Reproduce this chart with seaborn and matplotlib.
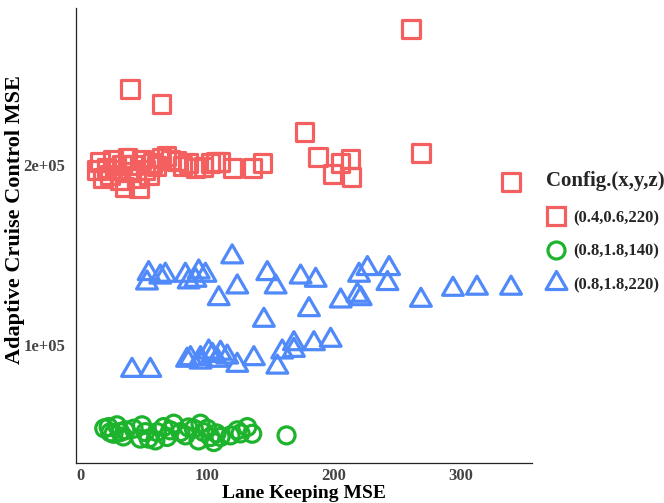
import numpy as np
import pandas as pd
import matplotlib
matplotlib.use("Agg")
import matplotlib.pyplot as plt
from matplotlib.path import Path
from matplotlib.lines import Line2D
from matplotlib.ticker import FuncFormatter
import seaborn as sns

# Config (0.4, 0.6, 220)
red_x = [13.4, 15.8, 18.2, 20.6, 23.7, 26.1, 28.5, 31.6, 33.2, 34.8, 37.2, 39.5,
         41.9, 44.3, 46.6, 48.2, 51.4, 54.5, 56.9, 60.1, 64.0, 68.0, 71.1, 75.9,
         80.6, 85.4, 90.9, 97.2, 102.8, 106.7, 110.7, 120.2, 136.0, 143.9,
         260.9, 39.5, 64.0, 177.1, 187.4, 199.2, 205.5, 213.4, 214.2, 268.8, 339.9]
red_y = [197200, 201700, 192800, 198300, 194400, 202800, 197200, 191700, 200000,
         187800, 203900, 196100, 200000, 192800, 187200, 202800, 197200, 194400,
         201100, 199500, 203900, 205000, 202800, 202200, 199500, 201100, 198300,
         198900, 201100, 201700, 201700, 198300, 198300, 201100,
         275600, 242200, 233900, 218300, 204400, 195000, 201100, 203300, 193300,
         206700, 190600]

# Config (0.8, 1.8, 140)
green_x = [22.4, 29.0, 31.6, 26.3, 35.6, 42.1, 48.8, 51.4, 54.0, 47.4, 59.3, 60.6,
           65.8, 68.5, 71.1, 73.8, 79.1, 83.0, 89.6, 94.9, 97.5, 100.2, 102.8,
           105.4, 110.7, 118.6, 123.9, 131.8, 135.7, 126.5, 162.8, 19.0, 23.7,
           34.0, 85.4, 93.3, 107.5]
green_y = [54600, 55600, 51800, 50900, 52800, 53700, 55600, 51800, 48200, 48200,
           47200, 51800, 54600, 49100, 52800, 56500, 51800, 50000, 53700, 56500,
           51800, 53700, 49100, 46300, 49100, 50000, 52800, 54600, 50900, 51100,
           50000, 53900, 51700, 49400, 54400, 47200, 51100]

# Config (0.8, 1.8, 220)
blue_x = [54.0, 52.7, 63.2, 67.2, 83.0, 85.6, 93.5, 98.8, 90.9, 119.9, 123.9,
          109.3, 147.6, 154.2, 173.9, 185.8, 180.5, 144.9, 205.5, 220.0, 226.6,
          218.7, 221.3, 243.7, 242.4, 268.8, 294.1, 313.0, 339.9,
          40.9, 55.3, 84.3, 87.0, 94.9, 94.9, 101.4, 108.1, 116.0, 123.9, 137.0,
          155.5, 159.4, 168.6, 168.6, 184.4, 197.6, 104.3, 110.7]
blue_y = [139800, 134600, 137900, 138900, 138900, 135200, 140700, 138900, 136100,
          149100, 132400, 125900, 139800, 132400, 137900, 136100, 119800, 113900,
          124600, 138900, 142600, 127800, 125900, 142600, 134300, 125000, 131100,
          131700, 131700,
          86100, 86100, 91700, 92600, 92600, 90700, 96300, 91700, 93500, 88900,
          92600, 87900, 96300, 100900, 97200, 100900, 102800, 94400, 95600]

configs = ["(0.4,0.6,220)", "(0.8,1.8,140)", "(0.8,1.8,220)"]
colors = ["#F46060", "#1DB32C", "#5089FA"]

# open triangle with its circumcentre on the data point
tri = Path([(0, 1), (-0.866, -0.5), (0.866, -0.5), (0, 1)],
           [Path.MOVETO, Path.LINETO, Path.LINETO, Path.CLOSEPOLY])
markers = ["s", "o", tri]
sizes = [160, 150, 300]

df = pd.concat([
    pd.DataFrame({"lk": red_x, "acc": red_y, "config": configs[0]}),
    pd.DataFrame({"lk": green_x, "acc": green_y, "config": configs[1]}),
    pd.DataFrame({"lk": blue_x, "acc": blue_y, "config": configs[2]}),
], ignore_index=True)

sns.set_theme(style="white")
plt.rcParams["font.family"] = ["Liberation Serif", "DejaVu Serif"]
plt.rcParams["font.weight"] = "bold"

fig = plt.figure(figsize=(6.64, 5.03), dpi=100)
ax = fig.add_axes([0.1152, 0.0801, 0.6856, 0.9034])

lw = 2.3
for cfg, col, mk, sz in zip(configs, colors, markers, sizes):
    sub = df[df["config"] == cfg]
    sns.scatterplot(data=sub, x="lk", y="acc", marker=mk, s=sz,
                    facecolors="none", edgecolor=col, color=col,
                    linewidth=lw, legend=False, ax=ax, zorder=3)

# ggplot-style 5% padding on both axes
xr = max(df["lk"]) - min(df["lk"])
yr = max(df["acc"]) - min(df["acc"])
ax.set_xlim(min(df["lk"]) - 0.05 * xr, max(df["lk"]) + 0.05 * xr)
ax.set_ylim(min(df["acc"]) - 0.05 * yr, max(df["acc"]) + 0.05 * yr)

ax.set_xticks([0, 100, 200, 300])
ax.set_yticks([100000, 200000])
ax.yaxis.set_major_formatter(FuncFormatter(lambda v, p: f"{v:.0e}"))

for side in ["top", "right"]:
    ax.spines[side].set_visible(False)
for side in ["left", "bottom"]:
    ax.spines[side].set_color("#222222")
    ax.spines[side].set_linewidth(0.9)

ax.tick_params(axis="both", direction="out", length=3, width=0.8,
               color="#333333", labelcolor="#444444", labelsize=12)
ax.tick_params(axis="y", pad=5)
ax.tick_params(axis="x", pad=0.5)
for lbl in ax.get_xticklabels() + ax.get_yticklabels():
    lbl.set_fontweight("bold")

ax.set_xlabel("Lane Keeping MSE", fontsize=14, fontweight="bold",
              color="black", va="center")
ax.set_ylabel("Adaptive Cruise Control MSE", fontsize=16, fontweight="bold",
              color="black", va="center")
ax.xaxis.set_label_coords(0.5, -0.0675)
ax.yaxis.set_label_coords(-0.135, 0.534)

handles = [Line2D([], [], linestyle="none", marker=mk, markersize=np.sqrt(sz),
                  markerfacecolor="none", markeredgecolor=col,
                  markeredgewidth=lw)
           for mk, sz, col in zip(markers, sizes, colors)]
leg = fig.legend(handles, configs, title="Config.(x,y,z)",
                 loc="upper left", bbox_to_anchor=(0.8125, 0.674),
                 frameon=False, prop={"size": 12, "weight": "bold"},
                 title_fontproperties={"size": 15, "weight": "bold"},
                 alignment="left", handlelength=1.2, handletextpad=0.45,
                 labelspacing=1.05, borderaxespad=0)
leg._legend_box.sep = 14

fig.savefig("out.png", dpi=100)
